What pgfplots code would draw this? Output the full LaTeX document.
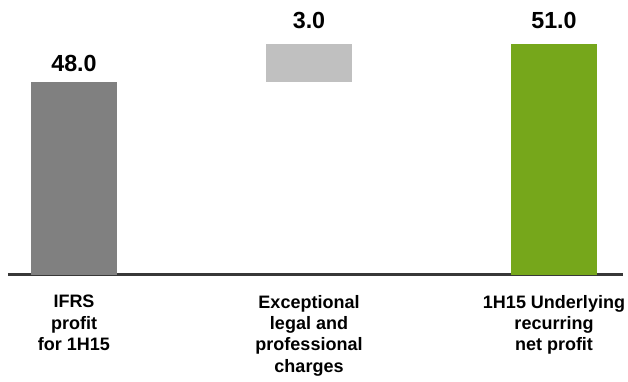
\documentclass[border=0pt]{standalone}
\usepackage{pgfplots}
\pgfplotsset{compat=1.18}
\usepackage{fontspec}
\setmainfont{Liberation Sans}

\definecolor{ifrsgray}{HTML}{808080}
\definecolor{chargegray}{HTML}{C0C0C0}
\definecolor{profitgreen}{HTML}{76A71B}
\definecolor{axisdark}{HTML}{383838}

\tikzset{vallabel/.style={anchor=base, inner sep=0pt,
    font=\fontsize{23.3}{28}\selectfont\bfseries}}

\begin{document}
\begin{tikzpicture}
\begin{axis}[
  at={(8pt,106.7pt)}, anchor=south west,
  scale only axis,
  width=615pt, height=293.9pt,
  xmin=8, xmax=623,
  ymin=32.795, ymax=56,
  ybar stacked,
  bar width=86pt,
  axis x line=bottom,
  axis y line=none,
  x axis line style={-, line width=3pt, color=axisdark},
  xtick={74,309,554},
  xtick style={draw=none},
  xticklabels={{IFRS\\profit\\for 1H15},
               {Exceptional\\legal and\\professional\\charges},
               {1H15 Underlying\\recurring\\net profit}},
  xticklabel style={anchor=north, align=center, inner sep=0pt, yshift=-18.7pt,
    font=\fontsize{18}{21.3}\selectfont\bfseries},
  ytick=\empty,
]
% invisible base that lifts the charges bar onto the IFRS profit
\addplot[draw=none, fill=white, fill opacity=0] coordinates {(74,0) (309,48) (554,0)};
\addplot[draw=none, fill=ifrsgray] coordinates {(74,48) (309,0) (554,0)};
\addplot[draw=none, fill=chargegray] coordinates {(74,0) (309,3) (554,0)};
\addplot[draw=none, fill=profitgreen] coordinates {(74,0) (309,0) (554,51)};

\node[vallabel] at (axis cs:74,48)  [yshift=10pt] {48.0};
\node[vallabel] at (axis cs:309,51) [yshift=15.7pt] {3.0};
\node[vallabel] at (axis cs:554,51) [yshift=15.7pt] {51.0};
\end{axis}
\pgfresetboundingbox
\useasboundingbox (0,0) rectangle (628pt,381pt);
\end{tikzpicture}
\end{document}
